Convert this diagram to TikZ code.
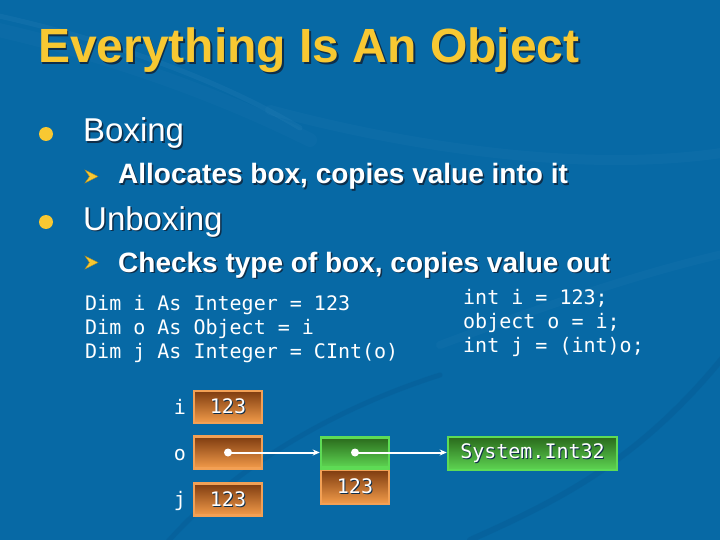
\documentclass[tikz,border=0pt]{standalone}
\usepackage{fontspec}
\setmainfont{Liberation Sans}
\setmonofont{DejaVu Sans Mono}
\usetikzlibrary{arrows.meta}
\definecolor{bg}{HTML}{0769A5}
\definecolor{bgl}{HTML}{3A8CC2}
\definecolor{bgd}{HTML}{04558C}
\definecolor{ttl}{HTML}{F8C832}
\definecolor{shd}{HTML}{0E2E4A}
\definecolor{ortop}{HTML}{7E3C10}
\definecolor{orbot}{HTML}{F39C4A}
\definecolor{orbrd}{HTML}{F2A055}
\definecolor{grtop}{HTML}{2A6A1C}
\definecolor{grbot}{HTML}{5ED552}
\definecolor{grbrd}{HTML}{5EDB55}
\newcommand\shadowtxt[2][1.5pt]{\makebox[0pt][l]{\hspace{#1}\raisebox{-#1}{\color{shd}#2}}#2}
\tikzset{
  txt/.style={inner sep=0pt, anchor=base west, text=white},
  titlefont/.style={font=\fontsize{48}{56}\selectfont\bfseries},
  lvlone/.style={txt, font=\fontsize{33}{38}\selectfont},
  lvltwo/.style={txt, font=\fontsize{28}{34}\selectfont\bfseries},
  code/.style={txt, font=\fontsize{20}{24}\selectfont\ttfamily},
  varlabel/.style={inner sep=0pt, anchor=base, text=white, font=\fontsize{20}{24}\selectfont\ttfamily},
  orbox/.style={draw=orbrd, line width=2.5pt, top color=ortop, bottom color=orbot,
     minimum width=68pt, minimum height=32pt, inner sep=0pt, text=white,
     font=\fontsize{20}{24}\selectfont\ttfamily},
  grbox/.style={draw=grbrd, line width=2.5pt, top color=grtop, bottom color=grbot,
     minimum height=32pt, inner sep=0pt, text=white,
     font=\fontsize{20}{24}\selectfont\ttfamily},
  dotc/.style={circle, fill=white, inner sep=0pt, minimum size=8pt},
  ptr/.style={white, line width=2pt, -{Stealth[length=7pt,width=6pt]}},
  bulletdot/.style={circle, fill=ttl, inner sep=0pt, minimum size=14pt},
  swoosh/.style={line cap=round},
}
\begin{document}
\begin{tikzpicture}[x=1pt,y=-1pt]
\useasboundingbox (0,0) rectangle (720,540);
\fill[bg] (0,0) rectangle (720,540);
% background swooshes
\draw[swoosh, bgl, opacity=0.16, line width=5pt] (-10,14) .. controls (110,40) and (220,80) .. (300,128);
\draw[swoosh, bgl, opacity=0.08, line width=14pt] (-10,28) .. controls (110,55) and (220,95) .. (310,140);
\draw[swoosh, bgl, opacity=0.10, line width=10pt] (270,110) .. controls (420,150) and (600,175) .. (740,150);
\draw[swoosh, bgl, opacity=0.10, line width=8pt] (440,345) .. controls (560,300) and (650,270) .. (740,250);
\draw[swoosh, bgd, opacity=0.30, line width=5pt] (165,545) .. controls (230,470) and (330,410) .. (440,375);
\draw[swoosh, bgd, opacity=0.30, line width=6pt] (470,540) .. controls (560,500) and (640,460) .. (725,355);
% title
\node[txt, titlefont, text=ttl] (title) at (38,63) {\shadowtxt[1.5pt]{Everything Is An Object}};
% bullets
\node[bulletdot] (b1) at (46,134) {};
\node[bulletdot] (b2) at (46,222) {};
\fill[ttl, draw=ttl!70!black, line width=0.4pt] (85,170) -- (98,176.5) -- (85,183) -- (89.5,176.5) -- cycle;
\fill[ttl, draw=ttl!70!black, line width=0.4pt] (85,256) -- (98,262.5) -- (85,269) -- (89.5,262.5) -- cycle;
\node[lvlone] (boxing) at (83,142) {\shadowtxt{Boxing}};
\node[lvltwo] (alloc) at (118,184) {\shadowtxt{Allocates box, copies value into it}};
\node[lvlone] (unboxing) at (83,230) {\shadowtxt{Unboxing}};
\node[lvltwo] (checks) at (118,272) {\shadowtxt{Checks type of box, copies value out}};
% code
\node[code] (vb1) at (85,310) {Dim i As Integer = 123};
\node[code] (vb2) at (85,334) {Dim o As Object = i};
\node[code] (vb3) at (85,358) {Dim j As Integer = CInt(o)};
\node[code] (cs1) at (463,304) {int i = 123;};
\node[code] (cs2) at (463,328) {object o = i;};
\node[code] (cs3) at (463,352) {int j = (int)o;};
% stack variables
\node[varlabel] (li) at (180,414) {i};
\node[varlabel] (lo) at (180,460) {o};
\node[varlabel] (lj) at (180,506) {j};
\node[orbox] (ibox) at (228,407) {\shadowtxt[1pt]{123}};
\node[orbox] (obox) at (228,452.5) {};
\node[orbox] (jbox) at (228,499.5) {\shadowtxt[1pt]{123}};
% heap object
\node[grbox, minimum width=68pt, minimum height=30pt] (gtop) at (355,452.5) {};
\node[orbox, minimum height=34pt, anchor=north] (gval) at (gtop.south) {\shadowtxt[1pt]{123}};
\draw[grbrd, line width=2.5pt] (gtop.south west) -- (gtop.south east);
\node[grbox, minimum width=169pt, minimum height=33pt] (sys) at (532.5,453.5) {\shadowtxt[1pt]{System.Int32}};
% pointers
\node[dotc] (od) at (obox.center) {};
\node[dotc] (gd) at (gtop.center) {};
\draw[ptr] (od.center) -- (gtop.west);
\draw[ptr] (gd.center) -- (sys.west |- gd.center);
\end{tikzpicture}
\end{document}
